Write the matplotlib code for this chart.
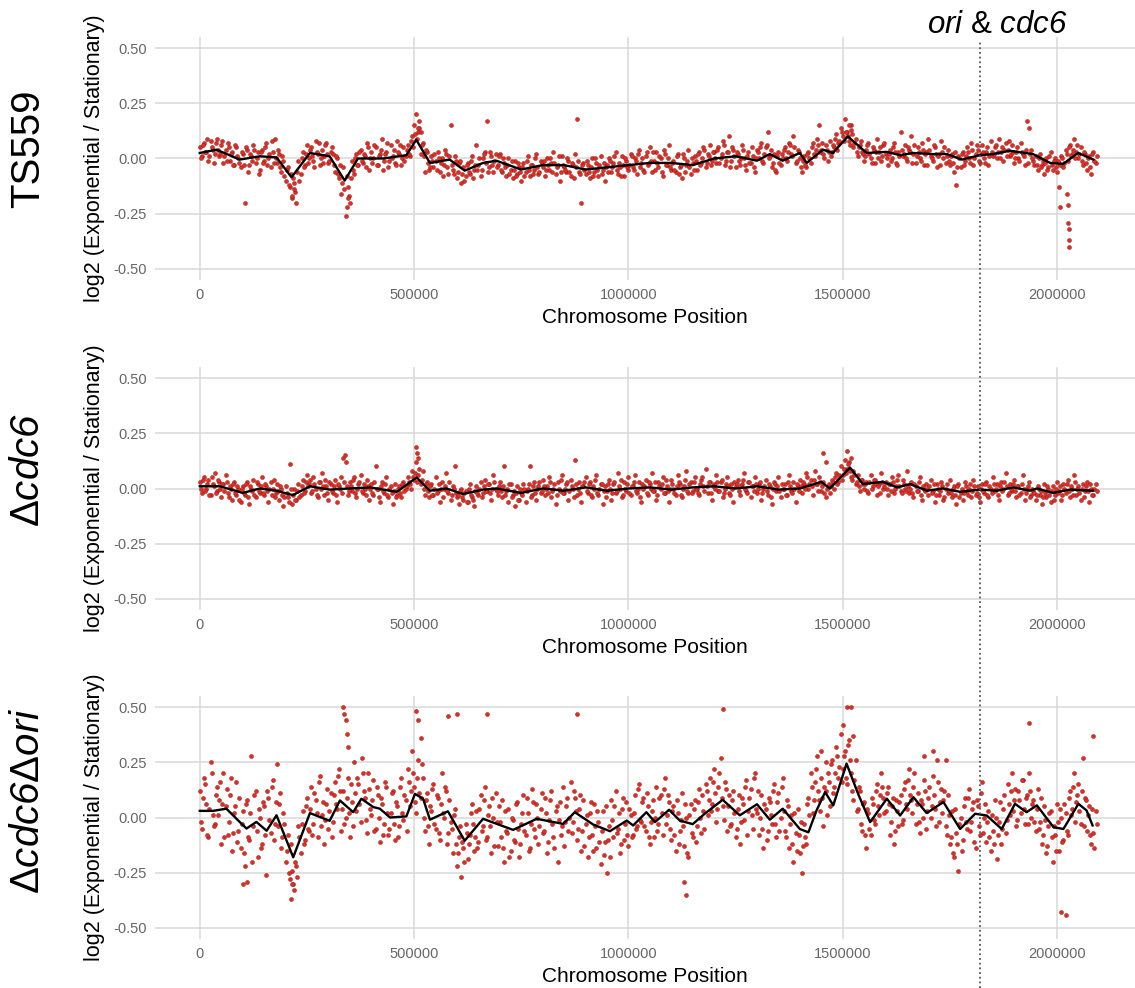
import numpy as np
import matplotlib
matplotlib.use("Agg")
import matplotlib.pyplot as plt

plt.rcParams['font.family'] = ['Liberation Sans', 'DejaVu Sans']
plt.rcParams['mathtext.fontset'] = 'custom'
plt.rcParams['mathtext.rm'] = 'Liberation Sans'
plt.rcParams['mathtext.it'] = 'Liberation Sans:italic'
plt.rcParams['mathtext.sf'] = 'Liberation Sans:italic'

# ---------------- data ----------------
BIN_SIZE = 5000            # genomic window size of the binned points
HALF_OFFSET = 2500         # second set of windows, shifted by half a window
ORI_CDC6_POS = 1820000     # position of ori & cdc6
X_TICKS = [0, 500000, 1000000, 1500000, 2000000]
X_TICK_LABELS = ["0", "500000", "1000000", "1500000", "2000000"]
Y_TICKS = [-0.5, -0.25, 0.0, 0.25, 0.5]
Y_TICK_LABELS = ["-0.50", "-0.25", "0.00", "0.25", "0.50"]
STRAIN_LABELS = ["TS559", r"$\Delta\mathsf{cdc6}$", r"$\Delta\mathsf{cdc6}\Delta\mathsf{ori}$"]

# binned log2 ratios (in hundredths), windows starting at 0, 5 kb, 10 kb, ...
ts559_vals = [
    5, 1, 7, 3, -1, 8, 4, 2, 9, 1,
    6, -2, 4, 7, -1, 3, -3, 5, 0, -4,
    2, -20, 4, -3, 1, 6, -2, 3, -5, 4,
    -1, 7, 0, -4, 3, 9, -2, 2, -6, -1,
    -10, -4, -13, -18, -11, -20, -1, -7, 3, -3,
    6, 0, 5, -1, 8, 2, -3, 4, 1, 7,
    -2, 3, 2, -6, 0, -9, -16, -4, -26, -13,
    -20, -1, -7, 2, -3, 4, -2, 1, 7, -5,
    3, 0, 5, -3, 2, 9, -1, 3, -4, 6,
    1, -2, 8, 2, -3, 5, 1, 6, 1, 10,
    15, 20, 12, 2, 7, -6, 3, -5, 1, -4,
    -1, 3, -6, 0, -3, 2, -7, 15, -5, 1,
    -9, -2, -11, -4, -8, -2, -7, 1, -5, 6,
    -3, -8, 0, 3, 17, -4, 1, -6, 2, -3,
    2, -6, -2, -8, 0, -5, -9, -1, -7, -4,
    -10, -2, -6, 1, -8, -3, -5, 2, -7, -1,
    -4, -8, 0, -5, -2, 3, -7, -3, -10, 1,
    -4, -6, -1, -8, -3, 2, 18, -6, -20, -2,
    -7, -3, -9, 0, -6, -2, -8, 1, -5, -10,
    -3, 0, -6, -2, 3, -7, -4, 1, -8, -1,
    -5, 2, -4, 0, -7, 4, -2, -5, 1, -3,
    5, -6, -1, 3, -4, 0, -8, 2, -3, 6,
    -5, -1, -6, 2, -4, -9, 0, -3, 4, -7,
    -2, 1, -5, 3, -2, 5, -4, 2, 6, -1,
    3, -2, 5, 0, 8, -3, 3, 10, -1, 4,
    -4, 2, -3, 6, 0, -5, 3, -2, 1, -6,
    4, 0, 7, -2, 5, 12, 1, -4, 2, -6,
    3, -3, 0, 5, -1, 7, 2, 10, -2, 4,
    0, -6, 1, -4, 3, -2, 7, 1, 9, 15,
    4, 2, 6, -1, 8, 3, 5, 11, 7, 14,
    10, 18, 12, 8, 15, 5, 9, 1, 6, 3,
    -1, 4, 7, 0, 5, -2, 9, 3, -1, 6,
    2, -3, 4, 0, 7, -2, 3, 12, 1, 6,
    -1, 4, 10, 2, -2, 5, 0, 7, -3, 3,
    9, 1, -1, 5, -4, 2, 8, 0, -2, 4,
    -3, 2, -6, -12, 1, -4, 3, -1, 5, 0,
    7, -3, 2, 4, -2, 6, 0, 3, -3, 8,
    1, 5, 0, 9, 3, -1, 7, 4, 1, 6,
    -2, 3, 0, 7, 2, -3, 17, 14, 4, -1,
    1, -5, 2, -3, -7, 0, -4, 3, -5, 0,
    -6, -2, 1, -4, 4, -1, 6, 2, 9, 3,
    0, 5, -3, 2, -5, 1, -7, 3, -2,
]
# windows starting at 2.5 kb, 7.5 kb, 12.5 kb, ...
ts559_vals_b = [
    0, 6, 3, 9, 1, 5, -2, 7, 4, 2,
    8, 1, -1, 5, 2, -3, 6, 1, -2, 3,
    -3, 5, -6, 2, -1, 4, 0, -7, 3, -2,
    5, -3, 2, 8, -2, 0, 4, -4, 1, -8,
    -5, -12, -7, -9, -15, -6, -10, 0, -4, 2,
    -2, 4, 1, -4, 3, 7, 0, -2, 6, 2,
    -1, 5, -3, 1, -7, -3, -11, -14, -8, -17,
    -9, -5, 0, -3, 3, -1, 2, -4, 5, 0,
    -2, 6, -3, 1, 4, -5, 2, 7, -1, 0,
    4, -3, 3, 6, 0, -1, 4, 2, 8, 5,
    11, 9, 14, 6, 1, 4, -2, -4, -1, 2,
    -5, 0, -2, -8, 4, -4, 1, -3, -7, -1,
    -6, -1, -7, -10, -3, -6, -1, -9, -3, -5,
    0, -5, 2, -2, -6, 3, -3, -1, -4, 1,
    -5, 0, -4, -3, -7, -1, -5, -8, -2, -6,
    -4, -8, -1, -5, -3, -7, 0, -4, -6, -2,
    -1, -5, -3, 0, -6, -2, -4, 1, -6, -3,
    -5, 0, -6, -2, -9, -4, -1, -7, -3, -5,
    -1, -6, -4, -8, 0, -5, -3, -7, -2, -4,
    -6, -1, -4, 1, -5, -2, -8, -3, 0, -4,
    -3, 1, -5, -1, 2, -4, 0, -6, 3, -2,
    -1, 3, -5, -2, 1, -6, 4, -3, 0, -4,
    -2, -5, 1, -7, -3, 2, -6, -1, -4, 0,
    -5, -1, 2, -3, 0, 4, -2, 1, -3, 3,
    0, 4, -2, 2, 6, -1, 3, -4, 5, 1,
    3, -1, 0, 4, -3, 1, -2, 5, -4, 0,
    3, 5, -1, 2, 6, 0, 4, -2, -5, 1,
    -2, 2, 4, 0, 3, 6, 1, 5, -1, 3,
    -4, -1, -3, 2, 0, 5, 2, 4, 6, 3,
    7, 0, 4, 3, 1, 6, 9, 4, 8, 12,
    8, 12, 10, 6, 11, 7, 3, 5, 8, 2,
    1, 6, 2, -2, 4, 3, 0, 5, 1, 7,
    0, 2, -1, 5, 3, -3, 1, 4, 2, 0,
    5, 3, -2, 6, 1, 3, -1, 4, 2, -3,
    4, 0, 6, 2, 1, -3, 3, 5, 1, -1,
    1, -2, 3, -4, 0, 2, -3, 1, 3, -2,
    4, 0, 6, -1, 2, 3, -2, 5, 1, 3,
    2, 6, 3, 0, 5, 4, 1, 8, 2, 3,
    0, 5, -1, 3, 1, 4, -2, 2, 0, -3,
    -3, 0, -4, -1, -2, -5, 1, -3, -1, -4,
    -1, -3, 0, -2, 2, 5, 1, 4, 0, 6,
    2, -1, 3, -2, 0, -4, 2, -1, 1,
]
dcdc6_vals = [
    3, -2, 5, 0, 4, -3, 2, 7, -1, 3,
    -4, 2, 6, -2, 1, -5, 3, -3, 0, -6,
    1, -3, 3, -7, 0, 4, -4, 2, -2, 5,
    -3, 1, -6, 3, 0, -4, 2, -5, 0, -8,
    1, -4, 11, -7, 0, -5, 2, -3, 4, -1,
    6, 2, -2, 5, 0, -4, 3, 7, -3, 1,
    -5, 2, -2, 4, -6, 1, 5, 14, 12, -3,
    3, -1, 5, -4, 2, 6, -2, 0, 4, -5,
    2, -3, 10, 0, -6, 3, -2, 5, -4, 1,
    -7, 2, -3, 1, -4, 3, 0, 5, 2, 8,
    4, 12, 6, 2, 8, -3, 3, -4, 2, -3,
    5, -1, -6, 3, 0, 7, -2, -5, 1, 10,
    -4, -7, 0, -5, -1, -6, 2, -4, -8, 1,
    -3, 3, -2, 4, -1, 2, -5, 6, 0, -3,
    3, -4, 10, -1, -6, 2, -3, -8, 1, -5,
    -2, 2, -6, 0, 10, -3, 3, -5, 1, -2,
    4, -3, 1, 5, -4, 0, -7, 3, -1, 6,
    -2, 2, -5, 4, 0, 13, -3, 3, -6, 1,
    5, -2, 3, -4, 0, 6, -3, 2, -7, 1,
    -1, 4, -5, 2, -2, 7, 0, -4, 3, -1,
    5, -3, 1, 6, -2, 3, -6, 0, 4, -3,
    2, 7, -1, -5, 3, 0, 5, -2, 1, -6,
    4, 0, -3, 6, 2, -4, 1, 8, -2, 3,
    -1, 5, 0, -3, 4, 1, 9, -2, 3, -5,
    2, 6, -1, 3, -4, 0, 5, -2, 2, -6,
    1, 4, -3, 2, 7, -1, 3, -4, 1, 5,
    -2, 2, -5, 0, 4, -3, 1, -7, 3, -1,
    5, -4, 0, 2, -3, 6, -1, 3, -6, 1,
    4, -2, 2, 7, 0, 4, -3, 8, 2, 5,
    -1, 3, -4, 1, -2, 4, 0, 7, 3, 10,
    6, 13, 9, 12, 5, 8, 2, 6, -1, 4,
    0, 3, -2, 6, 1, 4, -3, 2, 7, 0,
    3, -3, 2, 5, -2, 1, 6, -1, 4, 0,
    8, -2, 3, -4, 1, -1, 5, -5, 0, 2,
    -3, 4, -1, -6, 2, -3, 3, -5, 0, -2,
    4, -4, 1, -7, 2, -2, -5, 3, -1, 0,
    -4, 4, -3, 1, -6, 2, -2, 3, -4, 0,
    5, -1, 2, -5, 3, 0, 7, -3, 2, -1,
    4, -4, 1, -2, 6, -5, 0, 3, -3, -1,
    -5, 1, -3, -7, 2, -4, 0, -6, 1, -3,
    3, -1, -5, 2, -2, 4, -4, 0, 6, -3,
    1, -5, 2, -1, 3, -6, 0, -3, 2,
]
dcdc6_vals_b = [
    0, 4, -1, 2, -3, 5, 1, -2, 4, 0,
    2, -1, 3, -4, 0, 2, -2, 1, -5, 0,
    -2, 2, -4, 1, -1, -3, 3, -1, 1, -2,
    2, -1, 0, -3, 4, -2, -1, 1, -3, -4,
    -2, -6, 0, -3, -5, -1, -4, 1, -2, 3,
    1, 4, -1, 2, -3, 3, 0, 1, 4, -2,
    3, -1, 1, -3, 2, 0, -2, 3, 1, -1,
    1, 4, -2, 0, 3, -1, 2, -3, 1, 0,
    -2, 3, 0, -4, 1, -1, 2, -3, 0, -2,
    -1, -4, 0, -2, 2, -1, 1, 3, 0, 5,
    7, 3, 9, 4, 0, 2, -1, 1, -3, 0,
    -2, 2, 0, -4, 1, -1, 3, -3, 0, -2,
    -3, -1, -4, -2, -6, 0, -3, -5, -1, -2,
    0, -4, 1, -1, 2, -2, 0, 3, -1, 1,
    -1, 1, -3, 0, 2, -4, -1, -2, -5, 0,
    -3, 0, -1, 2, -4, 1, -2, 0, 3, -1,
    1, 0, -2, 3, -1, 2, -3, 0, 4, -2,
    0, 3, -1, 1, -4, 2, 0, -2, 1, 3,
    -1, 2, -3, 1, 4, -2, 0, 2, -1, -4,
    2, 0, -2, 3, -1, 1, 4, -3, 0, 2,
    -2, 1, 3, -1, 0, -4, 2, 1, -2, 3,
    0, -1, 3, -3, 1, 2, -2, 4, -1, 0,
    2, -2, 1, 3, -3, 0, 4, -1, 2, -2,
    3, 0, -2, 2, 5, -1, 1, 3, -2, 1,
    0, 3, -1, 4, -2, 2, 1, -3, 0, 3,
    2, -1, 1, 4, 0, -2, 3, 1, -1, 2,
    0, 3, -2, 1, -1, 2, -4, 0, 2, 1,
    -1, 2, 0, -3, 3, 1, -2, 0, 2, -1,
    1, 3, 0, 5, 2, 1, 4, 2, -1, 3,
    1, -2, 0, 2, 1, 3, 5, 2, 6, 4,
    9, 7, 11, 8, 4, 6, 3, 1, 4, 2,
    2, -1, 3, 0, 4, 2, 1, -2, 3, 1,
    0, 2, -1, 3, 0, 4, 1, -2, 2, -1,
    1, 0, -2, 2, -1, 3, -3, 1, -1, 0,
    1, -2, 2, -3, 0, -1, 1, -4, 2, -1,
    -2, 0, -3, 1, -4, 0, -2, 1, -3, 2,
    -1, 1, -2, -4, 0, -1, 2, -3, 1, -2,
    2, 0, -3, 1, -1, 3, 1, -2, 0, 2,
    -1, 1, -3, 2, 0, -2, 1, -4, 0, -2,
    -3, 0, -1, -4, -2, 1, -3, -1, -5, 0,
    -2, 1, -3, 0, 2, -1, 1, -3, 3, 0,
    -2, 0, -4, 1, -1, 2, -3, 0, -1,
]
dcdc6dori_vals = [
    12, -5, 18, 6, -9, 25, 1, -3, 14, 8,
    -12, 20, 5, -8, 10, -15, 2, 16, -6, -14,
    3, -22, 8, -10, 28, -4, 12, -18, 0, -12,
    5, -26, 9, -7, 17, -3, 24, 6, -14, 2,
    -20, -8, -28, -24, -33, -22, -4, -16, 3, -10,
    9, -6, 14, -3, 8, -9, 19, 1, -12, 6,
    -5, 11, -2, 16, 4, 22, -6, 12, 0, 18,
    -9, 7, 25, 3, 15, -2, 20, 9, -7, 13,
    1, 17, -5, 10, -11, 6, -3, 14, -8, 2,
    12, -10, 5, -4, 18, -1, 8, 22, 5, 30,
    14, 2, 26, 9, 18, -6, 11, -12, 3, 15,
    -5, 9, -10, 20, 0, 12, -7, -2, -16, 4,
    -22, -9, -27, -14, -3, -19, -8, 6, -15, 3,
    -11, 10, -4, 14, -9, 5, -16, 0, 11, -13,
    -2, 8, -20, -6, 4, -15, -1, -11, 7, -18,
    -3, 10, -8, 2, -14, 13, -5, 6, -12, 4,
    -7, 9, -16, -1, 12, -9, 3, -20, 7, -4,
    -13, 5, -6, 16, -2, 9, -10, 4, -15, 8,
    -3, -18, 2, -8, 6, -14, -2, -21, 3, -11,
    -25, -4, 8, -9, 12, -5, -16, 4, -10, 7,
    -13, 1, -8, 10, -4, 15, -2, 9, -6, 5,
    -12, 3, -9, 14, -3, 10, -8, 18, 1, 7,
    -10, 5, -15, 2, -6, 11, -13, 0, -18, 6,
    -9, 8, -4, 13, -7, 3, 15, 1, 18, 6,
    22, -2, 14, 27, 5, 16, -6, 10, -3, 12,
    -9, 4, -12, 9, -1, 17, 3, 13, -5, 20,
    2, -8, 10, -14, 4, -6, 7, -3, 15, -9,
    11, 0, 18, -6, 8, -14, 1, -20, -7, 4,
    -16, -25, -3, -12, 9, 20, 2, 16, 28, 8,
    18, -4, 12, 20, 5, 26, 14, 32, 18, 38,
    22, 30, 15, 35, 20, 8, 26, 4, 12, -6,
    7, -14, 2, -8, 6, -3, 15, 1, 20, 9,
    3, 14, -8, 5, -12, 8, -4, 10, -1, 16,
    4, 22, 8, 14, -3, 11, -7, 6, 17, -5,
    9, 0, 19, 4, 26, -2, 13, 8, -4, 10,
    -12, 3, -18, -7, -24, 0, -10, 9, -5, 13,
    -2, 7, -14, 5, -8, 16, 0, -11, 3, -15,
    -6, 8, -19, -2, -12, 4, -7, 15, 1, 20,
    8, -4, 12, 2, 17, -3, 10, 20, 0, 8,
    -6, 13, -2, -12, 5, -16, -4, 3, -20, -8,
    6, -15, 0, -10, 2, -8, 12, 4, 20, 7,
    15, -3, 27, 9, -6, 5, -12, -7, 3,
]
dcdc6dori_vals_b = [
    -2, 9, 15, -8, 4, 20, -4, 10, 1, 16,
    6, -9, 13, -2, 18, -7, 5, -11, 9, -3,
    -16, 6, -9, 2, -20, 10, -6, 4, -14, 7,
    -8, 12, -1, 14, -10, 7, -4, 11, -9, -3,
    -15, -25, -12, -30, -20, -27, -9, -3, -12, 5,
    -5, 4, -8, 11, 2, 16, -4, 7, -1, 13,
    3, -9, 10, 6, 19, 12, 4, -3, 9, 2,
    15, -4, 11, 18, 6, 27, 12, -1, 20, 4,
    8, -6, 14, 0, 9, -8, 16, 2, -5, 11,
    -3, 7, -9, 14, 2, 10, -6, 16, 12, 20,
    7, 18, 11, 24, 0, 8, -4, 5, 13, -3,
    10, -7, 6, 2, 14, -12, 8, -5, 1, -12,
    -16, -4, -11, -20, -7, -12, 2, -3, -9, -14,
    4, -6, 8, -10, 1, -4, 9, -13, -2, 5,
    -9, -14, 3, -7, -18, 0, -10, 6, -5, -12,
    2, -6, 9, -15, -3, 7, -9, 0, -4, 11,
    -6, 2, -11, 8, -3, -14, 5, -1, -8, 14,
    -2, 9, 0, -7, 12, 3, -5, 10, -6, -13,
    1, -9, 7, -15, -4, 3, -11, -6, -17, 5,
    -10, -18, -1, 5, -7, 2, -12, 9, -3, -8,
    4, -9, 2, -5, 13, -1, 7, -4, 11, -9,
    -2, 8, 0, -6, 9, 2, 13, -3, 10, -5,
    3, -8, 8, -12, -1, -4, 6, -16, 1, -7,
    4, -11, 7, 0, 10, -5, 12, 8, 3, 16,
    11, 4, 20, 9, -1, 13, 5, -4, 8, 2,
    -5, 10, -2, 6, 14, -8, 9, 1, 18, 4,
    12, 0, -5, 6, -10, 9, 1, 12, -3, 7,
    -6, 14, 3, -9, 5, -3, -12, 2, -15, -8,
    -2, -13, -9, 6, 1, 14, 8, 22, 12, 3,
    9, 14, 1, 16, 24, 11, 20, 28, 23, 16,
    28, 18, 33, 26, 12, 17, 3, 14, -3, 6,
    -8, 4, -5, 9, -1, 12, 5, 10, 14, 2,
    11, 6, -2, 9, -6, 3, 7, -3, 13, 6,
    17, 10, 2, 20, 6, -2, 8, 0, 12, 3,
    14, 5, 10, -4, 16, 7, 2, 12, -8, 1,
    -9, -16, 4, -12, -3, -15, 5, -2, 9, -6,
    4, -11, 8, -4, 11, -7, 6, -2, -9, 1,
    -12, 0, -8, 7, -5, 10, -1, 6, 12, 3,
    13, -1, 8, 17, 4, 9, -3, 12, 6, -2,
    4, -5, 9, -8, -1, -13, 2, -9, -4, -15,
    -2, 4, -11, 6, -6, 9, 1, 14, -2, 10,
    3, 12, -4, 8, 1, -8, 4, -14, -3,
]

# individually read outlying points (position, hundredths)
ts559_out_pos = [215000, 220000, 343000, 345000, 510000, 512000, 515000, 1515000, 1520000,
                 2005000, 2006000, 2024000, 2025000, 2026000, 2027000, 2027500, 2028000]
ts559_out_val = [-17, -14, -22, -18, 14, 17, 12, 15, 13,
                 -13, -22, -16, -21, -29, -32, -37, -40]
dcdc6_out_pos = [338000, 505000, 507000, 510000, 1455000, 1460000, 1510000, 1520000]
dcdc6_out_val = [15, 19, 16, 14, 16, 12, 17, 14]
dcdc6dori_out_pos = [100000, 110000, 212000, 215000, 335000, 337000, 340000, 343000, 345000,
                     505000, 510000, 515000, 580000, 600000, 670000, 880000, 1130000, 1135000,
                     1220000, 1450000, 1460000, 1500000, 1510000, 1520000, 1525000, 1690000,
                     1710000, 1740000, 1935000, 2010000, 2020000, 2083000]
dcdc6dori_out_val = [-30, -29, -37, -30, 50, 47, 44, 38, 32,
                     48, 44, 36, 46, 47, 47, 47, -29, -35,
                     49, 30, 25, 42, 50, 50, 37, 28,
                     30, 26, 43, -43, -44, 37]

# smoothed trend (black line) read at knots: position, hundredths
ts559_trend_pos = [0, 39000, 93000, 140000, 179000, 214000, 257000, 303000, 338000, 369000,
                   428000, 482000, 505000, 537000, 583000, 618000, 661000, 692000, 750000,
                   800000, 850000, 900000, 950000, 1000000, 1050000, 1100000, 1150000,
                   1200000, 1250000, 1300000, 1330000, 1360000, 1400000, 1416000, 1454000,
                   1477000, 1512000, 1556000, 1603000, 1634000, 1664000, 1711000, 1743000,
                   1778000, 1820000, 1851000, 1890000, 1944000, 1984000, 2014000, 2049000,
                   2085000]
ts559_trend_val = [2.5, 4, -0.5, 1, 0.5, -8.5, 2.5, 1, -10, 0,
                   0, 1.5, 8.5, -2, -0.5, -5.5, -2, -1, -5,
                   -3, -3, -5, -4, -3, -2, -2, -3,
                   0, 1, -1, 2, -1, 2.5, -2, 4,
                   2.5, 10, 2.5, 3, 1.5, 2.5, 2, 2,
                   -0.5, 1.5, 2, 3.5, 2, -2, -2.5, 2.5,
                   -0.5]
dcdc6_trend_pos = [0, 47000, 100000, 140000, 179000, 217000, 257000, 303000, 350000, 397000,
                   460000, 506000, 537000, 576000, 614000, 661000, 693000, 750000, 800000,
                   850000, 900000, 950000, 1000000, 1050000, 1100000, 1150000, 1200000,
                   1250000, 1300000, 1350000, 1400000, 1450000, 1470000, 1500000, 1517000,
                   1547000, 1594000, 1627000, 1657000, 1697000, 1734000, 1774000, 1820000,
                   1860000, 1898000, 1937000, 1953000, 1991000, 2030000, 2084000]
dcdc6_trend_val = [1, 1, -2, 0, -1, -3, 1, -0.5, 0, 0.5,
                   -1.5, 5, -1, 0, -2.5, -0.5, 0, -2, 0,
                   -1, 0.5, -1, 0, 0.5, -0.5, 0.5, 1,
                   0, 1, -0.5, 0, 3, 0, 6, 9.5,
                   2, 3, 0.5, 2, -1, 0, -1.5, -0.5,
                   -1, 0.5, -1, 0, -2, -0.5, -1]
dcdc6dori_trend_pos = [0, 31000, 62000, 93000, 109000, 132000, 156000, 179000, 218000, 257000,
                       303000, 327000, 358000, 377000, 405000, 420000, 444000, 482000, 502000,
                       521000, 537000, 579000, 618000, 661000, 731000, 786000, 848000, 875000,
                       918000, 957000, 996000, 1011000, 1042000, 1062000, 1095000, 1120000,
                       1150000, 1180000, 1220000, 1260000, 1300000, 1330000, 1360000, 1400000,
                       1420000, 1439000, 1459000, 1478000, 1509000, 1536000, 1564000, 1603000,
                       1634000, 1665000, 1696000, 1735000, 1774000, 1809000, 1836000, 1871000,
                       1902000, 1929000, 1953000, 1992000, 2015000, 2050000, 2069000, 2083000]
dcdc6dori_trend_val = [3, 3, 4, -2, -5, -2, -6, 1, -18, 2,
                       -1.5, 7.7, 2.4, 8.5, 4.7, 4, 0, 0.5, 10.7,
                       8.5, -1, 2.8, -10.5, -0.6, -5.6, -0.6, -2.9, 2.4,
                       -3.2, -6.2, -1.4, -3.6, 2.4, -2.1, 3.5, -1.4,
                       -3, 2, 8, 1, 6, -1, 4, -5.2,
                       -6.7, 3.2, 11.5, 5.5, 24.4, 10.7, -2.1, 8.5,
                       0.9, 9.2, 2, 7, -5.2, 1.7, 0.9, -5.2,
                       6.2, 2.4, 5.5, -4.4, -5.2, 6.2, 3.2, -3.6]

panels = [
    (ts559_vals, ts559_vals_b, ts559_out_pos, ts559_out_val, ts559_trend_pos, ts559_trend_val),
    (dcdc6_vals, dcdc6_vals_b, dcdc6_out_pos, dcdc6_out_val, dcdc6_trend_pos, dcdc6_trend_val),
    (dcdc6dori_vals, dcdc6dori_vals_b, dcdc6dori_out_pos, dcdc6dori_out_val,
     dcdc6dori_trend_pos, dcdc6dori_trend_val),
]

# ---------------- figure ----------------
W, H = 1135, 988
fig = plt.figure(figsize=(W / 100, H / 100), dpi=100)
fig.patch.set_facecolor("white")

XLIM = (-104500, 2182000)
YLIM = (-0.55, 0.55)
ax_left, ax_w, ax_h = 155, 980, 243
panel_tops = [37, 367, 696]
label_centers = [149, 470, 801]

RED = "#ec2a1e"
EDGE = "#7a1c1c"
GRID = "#d9d9d9"
TICK_COLOR = "#666666"
PT = dict(s=8, facecolor=RED, edgecolor=EDGE, linewidth=0.35, zorder=2)

for k, (vals, vals_b, opos, oval, tpos, tval) in enumerate(panels):
    top = panel_tops[k]
    ax = fig.add_axes([ax_left / W, 1 - (top + ax_h) / H, ax_w / W, ax_h / H])
    ax.set_facecolor("none")
    for s in ax.spines.values():
        s.set_visible(False)
    ax.set_xlim(*XLIM)
    ax.set_ylim(*YLIM)
    ax.set_xticks(X_TICKS)
    ax.set_xticklabels(X_TICK_LABELS)
    ax.set_yticks(Y_TICKS)
    ax.set_yticklabels(Y_TICK_LABELS)
    ax.tick_params(length=0, labelsize=10.5, labelcolor=TICK_COLOR, pad=6)
    ax.grid(True, color=GRID, linewidth=1.1)
    ax.set_axisbelow(True)

    va = np.asarray(vals, dtype=float) / 100.0
    vb = np.asarray(vals_b, dtype=float) / 100.0
    ax.scatter(np.arange(len(va)) * BIN_SIZE, va, **PT)
    ax.scatter(np.arange(len(vb)) * BIN_SIZE + HALF_OFFSET, vb, **PT)
    ax.scatter(np.asarray(opos), np.asarray(oval, dtype=float) / 100.0, **PT)
    ax.plot(np.asarray(tpos), np.asarray(tval) / 100.0, color="black", lw=1.7,
            solid_joinstyle="round", zorder=3)

    ax.set_xlabel("Chromosome Position", fontsize=15, color="black")
    ax.xaxis.set_label_coords(0.5, -0.155)
    ax.xaxis.label.set_va("center")
    ax.set_ylabel("log2 (Exponential / Stationary)", fontsize=15.5, color="black")
    ax.yaxis.set_label_coords(-0.062, 0.5)
    ax.yaxis.label.set_va("center")

    fig.text(28 / W, 1 - label_centers[k] / H, STRAIN_LABELS[k], rotation=90,
             fontsize=29, ha="center", va="center", color="black")

# dotted line marking ori & cdc6 across all panels
ov = fig.add_axes([ax_left / W, 0, ax_w / W, 1 - 40 / H])
ov.set_xlim(*XLIM)
ov.set_ylim(0, 1)
ov.axis("off")
ov.patch.set_alpha(0)
ov.axvline(ORI_CDC6_POS, ymin=0, ymax=1, color="#555555", lw=1.3, linestyle=(0, (1, 1.6)))
fig.text(997 / W, 1 - 25 / H, r"$\mathsf{ori}$ & $\mathsf{cdc6}$", fontsize=22.5,
         ha="center", va="center", color="black")

fig.savefig("out.png", dpi=100, facecolor="white")
